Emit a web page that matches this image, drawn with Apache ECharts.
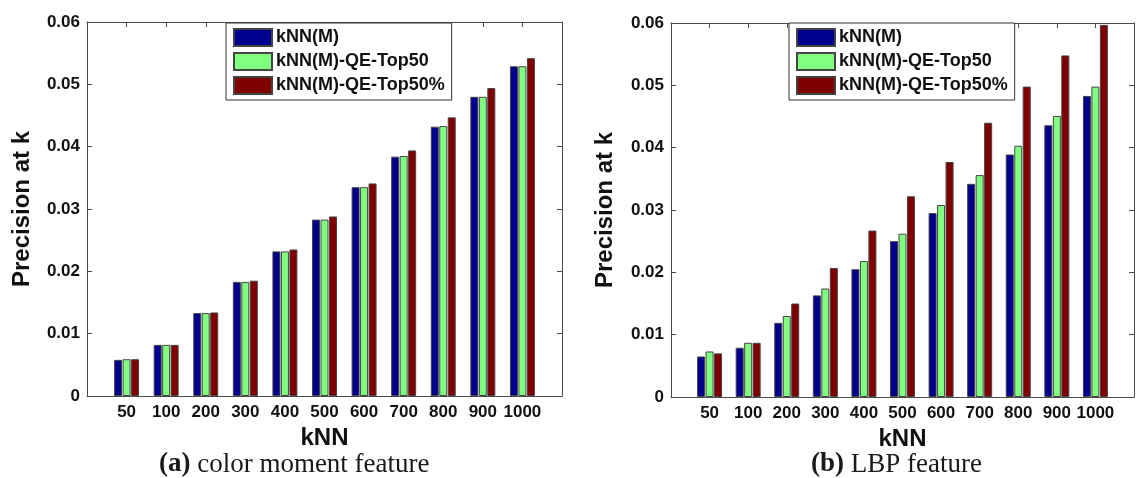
<!DOCTYPE html>
<html>
<head>
<meta charset="utf-8">
<script src="https://cdn.jsdelivr.net/npm/echarts@6/dist/echarts.min.js"></script>
<style>
  html, body { margin: 0; padding: 0; background: #fff; }
  #chart { width: 1137px; height: 478px; }
</style>
</head>
<body>
<div id="chart"></div>
<script>
// kNN values on the x axis
var kLabels = ['50', '100', '200', '300', '400', '500', '600', '700', '800', '900', '1000'];
var seriesNames = ['kNN(M)', 'kNN(M)-QE-Top50', 'kNN(M)-QE-Top50%'];
var yTickLabels = ['0', '0.01', '0.02', '0.03', '0.04', '0.05', '0.06'];

// (a) color moment feature
var cmKnn    = [0.0058, 0.0082, 0.0133, 0.0183, 0.0232, 0.0283, 0.0335, 0.0384, 0.0432, 0.0480, 0.0529];
var cmTop50  = [0.0059, 0.0082, 0.0133, 0.0183, 0.0232, 0.0283, 0.0335, 0.0385, 0.0433, 0.0480, 0.0529];
var cmTop50p = [0.0059, 0.0082, 0.0134, 0.0185, 0.0235, 0.0288, 0.0341, 0.0394, 0.0447, 0.0494, 0.0542];

// (b) LBP feature
var lbpKnn    = [0.0065, 0.0079, 0.0119, 0.0163, 0.0205, 0.0250, 0.0295, 0.0342, 0.0389, 0.0436, 0.0483];
var lbpTop50  = [0.0073, 0.0087, 0.0130, 0.0174, 0.0218, 0.0262, 0.0308, 0.0356, 0.0403, 0.0451, 0.0498];
var lbpTop50p = [0.0070, 0.0087, 0.0150, 0.0207, 0.0267, 0.0322, 0.0377, 0.0440, 0.0498, 0.0548, 0.0597];

var colors = ['#00008f', '#80ff80', '#800000'];
var axisColor = '#4a4a4a';
var sans = 'Liberation Sans';

function pairs(vals) {
    return vals.map(function (v, i) { return [i + 1, v]; });
}

function xAxes(grid) {
    return [
        {
            type: 'value', gridIndex: grid, position: 'bottom', min: 0, max: 12, interval: 1,
            name: 'kNN', nameLocation: 'middle', nameGap: 24,
            nameTextStyle: { fontFamily: sans, fontWeight: 'bold', fontSize: 24, color: '#111' },
            axisLine: { onZero: false, lineStyle: { color: axisColor, width: 1 } },
            axisTick: { inside: true, length: 5, lineStyle: { color: axisColor } },
            axisLabel: {
                margin: 8, fontFamily: sans, fontWeight: 'bold', fontSize: 17, color: '#111',
                formatter: function (v) { return kLabels[v - 1] || ''; }
            },
            splitLine: { show: false }
        },
        {
            type: 'value', gridIndex: grid, position: 'top', min: 0, max: 12, interval: 1,
            axisLine: { onZero: false, lineStyle: { color: axisColor, width: 1 } },
            axisTick: { inside: true, length: 5, lineStyle: { color: axisColor } },
            axisLabel: { show: false },
            splitLine: { show: false }
        }
    ];
}

function yAxes(grid, gap) {
    return [
        {
            type: 'value', gridIndex: grid, position: 'left', min: 0, max: 0.06, interval: 0.01,
            name: 'Precision at k', nameLocation: 'middle', nameGap: gap,
            nameTextStyle: { fontFamily: sans, fontWeight: 'bold', fontSize: 24, color: '#111' },
            axisLine: { show: true, onZero: false, lineStyle: { color: axisColor, width: 1 } },
            axisTick: { show: true, inside: true, length: 5, lineStyle: { color: axisColor } },
            axisLabel: {
                margin: 7, fontFamily: sans, fontWeight: 'bold', fontSize: 17, color: '#111',
                formatter: function (v) { return yTickLabels[Math.round(v * 100)]; }
            },
            splitLine: { show: false }
        },
        {
            type: 'value', gridIndex: grid, position: 'right', min: 0, max: 0.06, interval: 0.01,
            axisLine: { show: true, onZero: false, lineStyle: { color: axisColor, width: 1 } },
            axisTick: { show: true, inside: true, length: 5, lineStyle: { color: axisColor } },
            axisLabel: { show: false },
            splitLine: { show: false }
        }
    ];
}

function barSeries(name, vals, idx, xi, yi) {
    return {
        name: name, type: 'bar', xAxisIndex: xi, yAxisIndex: yi,
        data: pairs(vals), barWidth: 8, barGap: '6%',
        itemStyle: { color: colors[idx], borderColor: '#444', borderWidth: 1 }
    };
}

function legendAt(left) {
    return {
        orient: 'vertical', left: left, top: 23,
        data: seriesNames, icon: 'rect',
        itemWidth: 38, itemHeight: 17, itemGap: 5,
        padding: [5, 7, 5, 7],
        backgroundColor: '#fff', borderColor: '#333', borderWidth: 1,
        textStyle: { fontFamily: sans, fontWeight: 'bold', fontSize: 18, color: '#111', lineHeight: 17, padding: [0, 0, 0, -1] },
        selectedMode: false
    };
}

var captionRich = {
    b: { fontFamily: 'Liberation Serif', fontWeight: 'bold', fontSize: 27, fill: '#1a1a1a' },
    r: { fontFamily: 'Liberation Serif', fontSize: 27, fill: '#1a1a1a' }
};

var chart = echarts.init(document.getElementById('chart'), null, { renderer: 'canvas' });
chart.setOption({
    backgroundColor: '#fff',
    animation: false,
    grid: [
        { left: 87, top: 22, width: 475, height: 374 },
        { left: 671, top: 23, width: 472, height: 374 }
    ],
    legend: [legendAt(226), legendAt(789)],
    xAxis: xAxes(0).concat(xAxes(1)),
    yAxis: yAxes(0, 53).concat(yAxes(1, 54)),
    series: [
        barSeries(seriesNames[0], cmKnn, 0, 0, 0),
        barSeries(seriesNames[1], cmTop50, 1, 0, 0),
        barSeries(seriesNames[2], cmTop50p, 2, 0, 0),
        barSeries(seriesNames[0], lbpKnn, 0, 2, 2),
        barSeries(seriesNames[1], lbpTop50, 1, 2, 2),
        barSeries(seriesNames[2], lbpTop50p, 2, 2, 2)
    ],
    graphic: [
        {
            type: 'text', left: 159, top: 451,
            style: { text: '{b|(a)}  {r|color moment feature}', rich: captionRich }
        },
        {
            type: 'text', left: 811, top: 451,
            style: { text: '{b|(b)}  {r|LBP feature}', rich: captionRich }
        }
    ]
});
</script>
</body>
</html>
